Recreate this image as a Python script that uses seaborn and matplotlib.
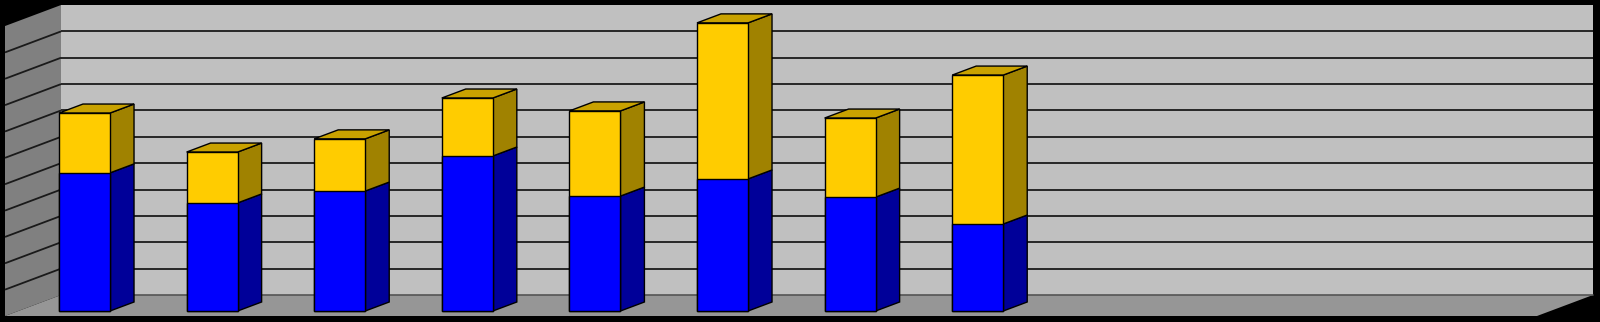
import matplotlib
matplotlib.use("Agg")
import matplotlib.pyplot as plt
import pandas as pd
import seaborn as sns
from matplotlib.patches import Polygon

# ---- data ----
categories = ["1", "2", "3", "4", "5", "6", "7", "8"]
series_blue = [5.24, 4.10, 4.55, 5.88, 4.36, 5.01, 4.32, 3.30]
series_yellow = [2.27, 1.93, 1.98, 2.20, 3.23, 5.92, 3.00, 5.65]
grid_levels = list(range(1, 11))
wall_top = 11

# ---- styles ----
BLUE, BLUE_SIDE, BLUE_TOP = "#0000FF", "#000099", "#0000CC"
YEL, YEL_SIDE, YEL_TOP = "#FFCC00", "#A08200", "#C9A200"
BACK_WALL, SIDE_WALL, FLOOR = "#C0C0C0", "#808080", "#969696"

W, H = 1600, 322
UX, UY = 127.6, 26.36        # pixels per data unit
X0PX, Y0PX = 84.5, 11.0      # pixel position of category 0 / value 0

sns.set_theme(style="white")
fig = plt.figure(figsize=(W / 100, H / 100), dpi=100, facecolor="black")
ax = fig.add_axes([0, 0, 1, 1])

totals = [b + y for b, y in zip(series_blue, series_yellow)]
df = pd.DataFrame({"cat": categories, "blue": series_blue, "total": totals})

sns.barplot(data=df, x="cat", y="total", color=YEL, saturation=1, width=0.4,
            edgecolor="black", linewidth=1.0, errorbar=None, ax=ax, zorder=4)
n_yel = len(ax.patches)
sns.barplot(data=df, x="cat", y="blue", color=BLUE, saturation=1, width=0.4,
            edgecolor="black", linewidth=1.0, errorbar=None, ax=ax, zorder=5)

ax.set_xlim(-X0PX / UX, (W - X0PX) / UX)
ax.set_ylim(-Y0PX / UY, (H - Y0PX) / UY)
ax.set_axis_off()

# ---- 3D frame (walls and floor) ----
ddx, ddy = 56 / UX, 21 / UY          # full chart depth offset
y_front = -5 / UY                     # floor front edge
y_back = y_front + ddy                # back wall base
x_side_front = (5 - X0PX) / UX
x_back_left = x_side_front + ddx
x_back_right = (1593 - X0PX) / UX

ax.add_patch(Polygon([(x_back_left, y_back), (x_back_right, y_back),
                      (x_back_right, y_back + wall_top), (x_back_left, y_back + wall_top)],
                     closed=True, facecolor=BACK_WALL, edgecolor="none", zorder=0))
ax.add_patch(Polygon([(x_side_front, y_front), (x_back_left, y_back),
                      (x_back_left, y_back + wall_top), (x_side_front, y_front + wall_top)],
                     closed=True, facecolor=SIDE_WALL, edgecolor="none", zorder=0))
ax.add_patch(Polygon([(x_side_front, y_front), (x_back_right - ddx, y_front),
                      (x_back_right, y_back), (x_back_left, y_back)],
                     closed=True, facecolor=FLOOR, edgecolor="none", zorder=1))
for k in grid_levels:
    ax.plot([x_back_left, x_back_right], [y_back + k, y_back + k],
            color="#1a1a1a", lw=1.3, zorder=2, solid_capstyle="butt")
    ax.plot([x_side_front, x_back_left], [y_front + k, y_back + k],
            color="#1a1a1a", lw=1.3, zorder=2, solid_capstyle="butt")
ax.plot([x_back_left, x_back_right], [y_back, y_back], color="#555555", lw=1.2, zorder=2)

# ---- 3D faces of the bars (derived from the seaborn bar patches) ----
bdx, bdy = 24 / UX, 9 / UY
yel_patches = ax.patches[:n_yel] if False else None
bars = [p for p in ax.patches if isinstance(p, matplotlib.patches.Rectangle)]
yel_bars, blue_bars = bars[:len(categories)], bars[len(categories):2 * len(categories)]


def side(xr, y0, y1, fc):
    ax.add_patch(Polygon([(xr, y0), (xr + bdx, y0 + bdy), (xr + bdx, y1 + bdy), (xr, y1)],
                         closed=True, facecolor=fc, edgecolor="black", lw=1.0, zorder=3))


def top(xl, xr, y, fc):
    ax.add_patch(Polygon([(xl, y), (xl + bdx, y + bdy), (xr + bdx, y + bdy), (xr, y)],
                         closed=True, facecolor=fc, edgecolor="black", lw=1.0, zorder=3))


for yb, bb in zip(yel_bars, blue_bars):
    xl = yb.get_x()
    xr = xl + yb.get_width()
    hb = bb.get_height()
    ht = yb.get_height()
    side(xr, 0, hb, BLUE_SIDE)
    side(xr, hb, ht, YEL_SIDE)
    top(xl, xr, ht, YEL_TOP)

fig.savefig("out.png", dpi=100, facecolor="black")
